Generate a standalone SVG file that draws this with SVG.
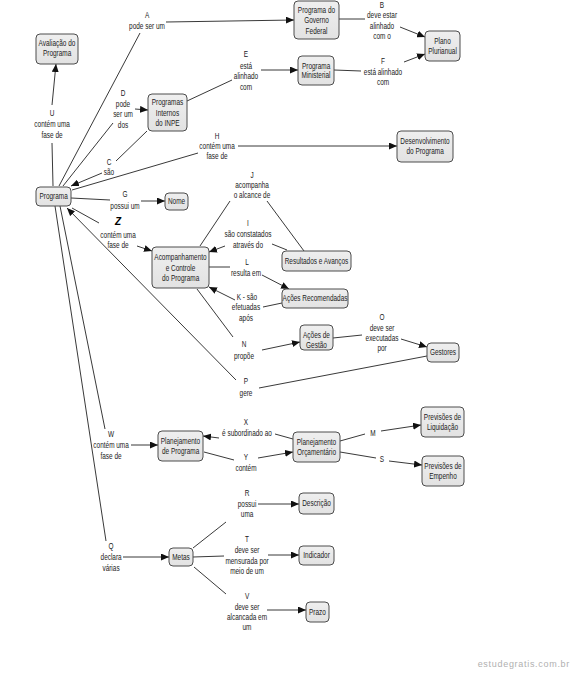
<svg xmlns="http://www.w3.org/2000/svg" width="573" height="673" viewBox="0 0 573 673">
<defs>
<marker id="arr" markerUnits="userSpaceOnUse" markerWidth="8" markerHeight="7" refX="8" refY="3.5" orient="auto"><path d="M0,0 L8,3.5 L0,7 z" fill="#111"/></marker>
<linearGradient id="nf" x1="0" y1="0" x2="0" y2="1"><stop offset="0" stop-color="#efefef"/><stop offset="1" stop-color="#e2e2e2"/></linearGradient>
</defs>
<style>
text{font-family:'Liberation Sans',Arial,sans-serif;font-size:8.6px;fill:#222;text-anchor:middle;transform-box:fill-box;transform-origin:center;transform:scaleX(0.75)}
.n rect{fill:url(#nf);stroke:#4d4d4d;stroke-width:1}
#connectors line{stroke:#222;stroke-width:0.9;fill:none}
#connectors line.a{marker-end:url(#arr)}
text.z{font-weight:bold;font-style:italic;font-size:10px;fill:#000;transform:none}
text.wm{font-size:9px;fill:#b0b0b0;letter-spacing:0.7px;text-anchor:end;transform:none}
</style>
<rect width="573" height="673" fill="#fff"/>
<g id="connectors">
<line x1="59" y1="186" x2="140" y2="33"/>
<line class="a" x1="166" y1="22" x2="294" y2="20"/>
<line x1="339" y1="19" x2="365" y2="19"/>
<line class="a" x1="400" y1="27" x2="425" y2="37"/>
<line x1="187" y1="101" x2="232" y2="80"/>
<line class="a" x1="261" y1="70" x2="298" y2="70"/>
<line x1="334" y1="70" x2="361" y2="71"/>
<line class="a" x1="404" y1="62" x2="425" y2="54"/>
<line x1="63" y1="186" x2="113" y2="123"/>
<line class="a" x1="135" y1="109" x2="148" y2="110"/>
<line x1="147" y1="131" x2="116" y2="161"/>
<line class="a" x1="102" y1="173" x2="71" y2="186"/>
<line x1="72" y1="190" x2="198" y2="153"/>
<line class="a" x1="238" y1="146" x2="397" y2="146"/>
<line x1="71" y1="198" x2="110" y2="200"/>
<line class="a" x1="141" y1="201" x2="165" y2="201"/>
<line x1="72" y1="208" x2="99" y2="223"/>
<line class="a" x1="137" y1="246" x2="152" y2="251"/>
<line x1="53" y1="186" x2="52" y2="143"/>
<line class="a" x1="52" y1="105" x2="56" y2="64"/>
<line x1="200" y1="246" x2="230" y2="201"/>
<line x1="304" y1="251" x2="267" y2="201"/>
<line x1="287" y1="250" x2="272" y2="244"/>
<line class="a" x1="225" y1="246" x2="209" y2="252"/>
<line x1="209" y1="267" x2="230" y2="267"/>
<line class="a" x1="262" y1="275" x2="289" y2="289"/>
<line x1="282" y1="303" x2="263" y2="307"/>
<line class="a" x1="235" y1="300" x2="209" y2="287"/>
<line x1="197" y1="289" x2="233" y2="337"/>
<line class="a" x1="262" y1="350" x2="300" y2="342"/>
<line x1="333" y1="338" x2="362" y2="335"/>
<line class="a" x1="401" y1="339" x2="427" y2="347"/>
<line x1="427" y1="356" x2="259" y2="388"/>
<line class="a" x1="236" y1="380" x2="67" y2="208"/>
<line x1="60" y1="206" x2="105" y2="429"/>
<line class="a" x1="131" y1="445" x2="158" y2="445"/>
<line x1="55" y1="206" x2="106" y2="541"/>
<line class="a" x1="123" y1="557" x2="169" y2="557"/>
<line x1="293" y1="439" x2="275" y2="434"/>
<line class="a" x1="219" y1="438" x2="203" y2="436"/>
<line x1="204" y1="452" x2="234" y2="460"/>
<line class="a" x1="258" y1="458" x2="293" y2="452"/>
<line x1="340" y1="441" x2="365" y2="434"/>
<line class="a" x1="381" y1="431" x2="421" y2="425"/>
<line x1="340" y1="452" x2="376" y2="458"/>
<line class="a" x1="389" y1="461" x2="422" y2="465"/>
<line x1="193" y1="548" x2="226" y2="522"/>
<line class="a" x1="258" y1="504" x2="299" y2="504"/>
<line x1="193" y1="557" x2="224" y2="556"/>
<line class="a" x1="268" y1="555" x2="299" y2="555"/>
<line x1="194" y1="567" x2="226" y2="594"/>
<line class="a" x1="267" y1="610" x2="306" y2="610"/>
</g>
<g id="link-labels">
<g id="lA"><text x="147" y="18">A</text><text x="147" y="29">pode ser um</text></g>
<g id="lB"><text x="382" y="8">B</text><text x="382" y="18.3">deve estar</text><text x="382" y="28.6">alinhado</text><text x="382" y="39">com o</text></g>
<g id="lD"><text x="123" y="96">D</text><text x="123" y="107.5">pode</text><text x="123" y="117.5">ser um</text><text x="123" y="128">dos</text></g>
<g id="lU"><text x="52" y="116">U</text><text x="52" y="127.5">contém uma</text><text x="52" y="138">fase de</text></g>
<g id="lC"><text x="109" y="165">C</text><text x="109" y="175">são</text></g>
<g id="lE"><text x="246" y="57">E</text><text x="246" y="69">está</text><text x="246" y="79">alinhado</text><text x="246" y="90">com</text></g>
<g id="lF"><text x="383" y="64">F</text><text x="383" y="75">está alinhado</text><text x="383" y="85">com</text></g>
<g id="lH"><text x="217" y="139">H</text><text x="217" y="149">contém uma</text><text x="217" y="159">fase de</text></g>
<g id="lG"><text x="125" y="197">G</text><text x="125" y="209">possui um</text></g>
<g id="lZ"><text class="z" x="118" y="225">Z</text><text x="118" y="238">contém uma</text><text x="118" y="248">fase de</text></g>
<g id="lJ"><text x="252" y="178">J</text><text x="252" y="188">acompanha</text><text x="252" y="198">o alcance de</text></g>
<g id="lI"><text x="248" y="226">I</text><text x="248" y="237.5">são constatados</text><text x="248" y="248">através do</text></g>
<g id="lL"><text x="247" y="265">L</text><text x="246" y="276">resulta em</text></g>
<g id="lK"><text x="247" y="300">K - são</text><text x="246" y="310">efetuadas</text><text x="246" y="321">após</text></g>
<g id="lN"><text x="244" y="347.5">N</text><text x="244" y="359.5">propõe</text></g>
<g id="lO"><text x="382" y="320">O</text><text x="382" y="331">deve ser</text><text x="382" y="341">executadas</text><text x="382" y="351">por</text></g>
<g id="lP"><text x="246" y="384">P</text><text x="246" y="396">gere</text></g>
<g id="lW"><text x="111" y="437">W</text><text x="111" y="448">contém uma</text><text x="111" y="459">fase de</text></g>
<g id="lX"><text x="246" y="425">X</text><text x="247" y="436">é subordinado ao</text></g>
<g id="lY"><text x="246" y="460">Y</text><text x="246" y="471">contém</text></g>
<g id="lM"><text x="373" y="436">M</text></g>
<g id="lS"><text x="382" y="462">S</text></g>
<g id="lQ"><text x="111" y="549">Q</text><text x="111" y="560">declara</text><text x="111" y="571">várias</text></g>
<g id="lR"><text x="247" y="496">R</text><text x="247" y="507">possui</text><text x="247" y="517">uma</text></g>
<g id="lT"><text x="247" y="542">T</text><text x="247" y="553">deve ser</text><text x="247" y="564">mensurada por</text><text x="247" y="574">meio de um</text></g>
<g id="lV"><text x="247" y="599">V</text><text x="247" y="610">deve ser</text><text x="247" y="620">alcancada em</text><text x="247" y="630">um</text></g>
</g>
<g id="avaliacao" class="n"><rect x="36" y="34" width="42" height="30" rx="4"/><text x="57" y="46.5">Avaliação do</text><text x="57" y="56.5">Programa</text></g>
<g id="programa" class="n"><rect x="36" y="187" width="35" height="19" rx="4"/><text x="53.5" y="199">Programa</text></g>
<g id="nome" class="n"><rect x="165" y="193" width="23" height="17" rx="4"/><text x="176.5" y="204.5">Nome</text></g>
<g id="internos" class="n"><rect x="148" y="94" width="39" height="37" rx="4"/><text x="167.5" y="105">Programas</text><text x="167.5" y="116">Internos</text><text x="167.5" y="126">do INPE</text></g>
<g id="federal" class="n"><rect x="294" y="1" width="45" height="38" rx="4"/><text x="316.5" y="13">Programa do</text><text x="316.5" y="23">Governo</text><text x="316.5" y="34">Federal</text></g>
<g id="ministerial" class="n"><rect x="298" y="56" width="36" height="29" rx="4"/><text x="316" y="69">Programa</text><text x="316" y="78.5">Ministerial</text></g>
<g id="plano" class="n"><rect x="425" y="31" width="35" height="30" rx="4"/><text x="442.5" y="44">Plano</text><text x="442.5" y="54">Plurianual</text></g>
<g id="desenvolvimento" class="n"><rect x="397" y="131" width="56" height="31" rx="4"/><text x="425" y="144">Desenvolvimento</text><text x="425" y="154">do Programa</text></g>
<g id="acompanhamento" class="n"><rect x="152" y="247" width="57" height="41" rx="4"/><text x="180.5" y="260">Acompanhamento</text><text x="180.5" y="271">e Controle</text><text x="180.5" y="281">do Programa</text></g>
<g id="resultados" class="n"><rect x="282" y="251" width="69" height="20" rx="4"/><text x="316.5" y="264">Resultados e Avanços</text></g>
<g id="recomendadas" class="n"><rect x="282" y="289" width="66" height="19" rx="4"/><text x="315" y="301.5">Ações Recomendadas</text></g>
<g id="gestao" class="n"><rect x="300" y="325" width="33" height="25" rx="4"/><text x="316.5" y="338">Ações de</text><text x="316.5" y="348">Gestão</text></g>
<g id="gestores" class="n"><rect x="427" y="343" width="32" height="19" rx="4"/><text x="443" y="355.5">Gestores</text></g>
<g id="planejamento-programa" class="n"><rect x="158" y="431" width="45" height="30" rx="4"/><text x="180.5" y="444">Planejamento</text><text x="180.5" y="454">de Programa</text></g>
<g id="orcamentario" class="n"><rect x="293" y="432" width="47" height="30" rx="4"/><text x="316.5" y="445">Planejamento</text><text x="316.5" y="455">Orçamentário</text></g>
<g id="liquidacao" class="n"><rect x="421" y="407" width="43" height="30" rx="4"/><text x="442.5" y="420">Previsões de</text><text x="442.5" y="430">Liquidação</text></g>
<g id="empenho" class="n"><rect x="422" y="456" width="42" height="30" rx="4"/><text x="443" y="469">Previsões de</text><text x="443" y="479">Empenho</text></g>
<g id="metas" class="n"><rect x="169" y="548" width="24" height="18" rx="4"/><text x="181" y="560">Metas</text></g>
<g id="descricao" class="n"><rect x="299" y="493" width="35" height="21" rx="4"/><text x="316.5" y="506.5">Descrição</text></g>
<g id="indicador" class="n"><rect x="299" y="546" width="35" height="19" rx="4"/><text x="316.5" y="558.5">Indicador</text></g>
<g id="prazo" class="n"><rect x="306" y="602" width="23" height="20" rx="4"/><text x="317.5" y="615">Prazo</text></g>
<text class="wm" x="570" y="667">estudegratis.com.br</text>
</svg>
